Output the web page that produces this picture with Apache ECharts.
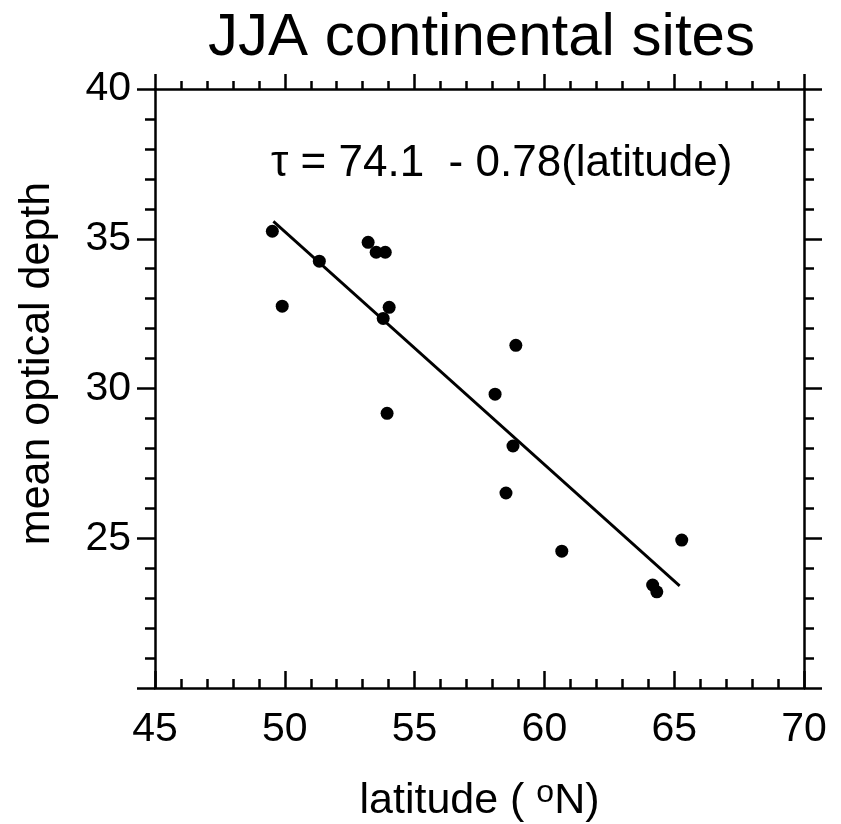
<!DOCTYPE html>
<html>
<head>
<meta charset="utf-8">
<script src="https://cdn.jsdelivr.net/npm/echarts@6/dist/echarts.min.js"></script>
<style>
html,body{margin:0;padding:0;background:#fff;}
#chart{width:841px;height:824px;}
</style>
</head>
<body>
<div id="chart"></div>
<script>
// Data
const latitude = [49.52, 49.90, 51.33, 53.21, 53.52, 53.87, 54.02, 53.79, 53.94, 58.90, 58.10, 58.79, 58.52, 60.67, 65.29, 64.17, 64.33];
const opticalDepth = [35.25, 32.75, 34.25, 34.88, 34.55, 34.55, 32.71, 32.34, 29.17, 31.44, 29.81, 28.08, 26.51, 24.57, 24.94, 23.44, 23.21];
const fitLatitude = [49.56, 65.21];
const fitDepth = [35.58, 23.41];
const titleText = 'JJA continental sites';
const equationText = 'τ = 74.1  - 0.78(latitude)';
const xName = 'latitude';
const yName = 'mean optical depth';

const FONT = 'Liberation Sans, Arial, Helvetica, sans-serif';
const chart = echarts.init(document.getElementById('chart'));

const pts = latitude.map((x, i) => [x, opticalDepth[i]]);
const fit = fitLatitude.map((x, i) => [x, fitDepth[i]]);

const axisLine = { show: true, onZero: false, lineStyle: { color: '#000', width: 2.5 } };

chart.setOption({
  animation: false,
  backgroundColor: '#fff',
  title: {
    text: titleText,
    left: 203,
    top: 3,
    textStyle: { fontFamily: FONT, fontSize: 60, fontWeight: 'normal', color: '#000' }
  },
  graphic: [{
    type: 'text',
    left: 271,
    top: 142,
    style: { text: equationText, font: '44px ' + FONT, fill: '#000' }
  }],
  grid: { left: 155, right: 37, top: 89, bottom: 136, containLabel: false, outerBoundsMode: 'none' },
  xAxis: [{
    type: 'value', position: 'bottom', min: 45, max: 70, interval: 5,
    name: xName + ' ( {sup|o}N)',
    nameLocation: 'middle', nameGap: 89,
    nameTextStyle: {
      fontFamily: FONT, fontSize: 43, color: '#000', verticalAlign: 'top', lineHeight: 48,
      rich: { sup: { fontFamily: FONT, fontSize: 32, color: '#000', verticalAlign: 'top', lineHeight: 30 } }
    },
    axisLine: axisLine,
    axisTick: { show: true, inside: true, length: 17, lineStyle: { color: '#000', width: 2.5 } },
    minorTick: { show: true, splitNumber: 5, length: 9, lineStyle: { color: '#000', width: 2.5 } },
    axisLabel: { fontFamily: FONT, fontSize: 41, color: '#000', margin: 21 },
    splitLine: { show: false }
  }, {
    type: 'value', position: 'top', min: 45, max: 70, interval: 5,
    axisLine: axisLine,
    axisTick: { show: true, inside: false, length: 15, lineStyle: { color: '#000', width: 2.5 } },
    minorTick: { show: true, splitNumber: 5, length: 8, lineStyle: { color: '#000', width: 2.5 } },
    axisLabel: { show: false },
    splitLine: { show: false }
  }],
  yAxis: [{
    type: 'value', position: 'left', min: 20, max: 40, interval: 5,
    name: yName, nameLocation: 'middle', nameGap: 96,
    nameTextStyle: { fontFamily: FONT, fontSize: 43, color: '#000', padding: [0, 0, 0, 50] },
    axisLine: axisLine,
    axisTick: { show: true, inside: false, length: 18, lineStyle: { color: '#000', width: 2.5 } },
    minorTick: { show: true, splitNumber: 5, length: 10, lineStyle: { color: '#000', width: 2.5 } },
    axisLabel: { fontFamily: FONT, fontSize: 41, color: '#000', margin: 24, showMinLabel: false },
    splitLine: { show: false }
  }, {
    type: 'value', position: 'right', min: 20, max: 40, interval: 5,
    axisLine: axisLine,
    axisTick: { show: true, inside: false, length: 18, lineStyle: { color: '#000', width: 2.5 } },
    minorTick: { show: true, splitNumber: 5, length: 10, lineStyle: { color: '#000', width: 2.5 } },
    axisLabel: { show: false },
    splitLine: { show: false }
  }],
  series: [{
    type: 'line', xAxisIndex: 0, yAxisIndex: 0, data: fit,
    showSymbol: false, symbol: 'none',
    lineStyle: { color: '#000', width: 2.8 }, z: 2
  }, {
    type: 'scatter', xAxisIndex: 0, yAxisIndex: 0, data: pts,
    symbol: 'circle', symbolSize: 13,
    itemStyle: { color: '#000', opacity: 1 }, z: 3
  }]
});
</script>
</body>
</html>
